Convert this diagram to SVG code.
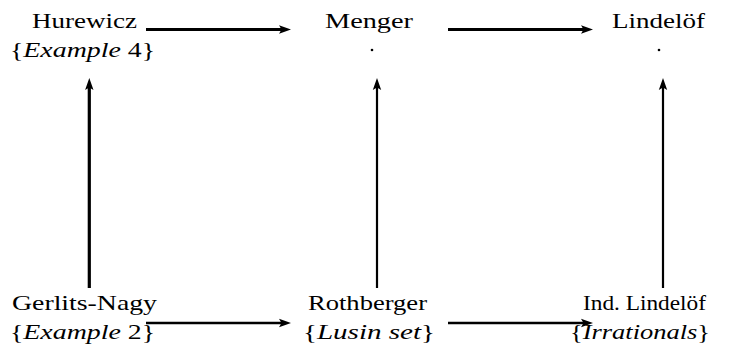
<svg xmlns="http://www.w3.org/2000/svg" width="741" height="352" viewBox="0 0 741 352">
<defs>
<marker id="ah" markerUnits="userSpaceOnUse" markerWidth="14" markerHeight="12" viewBox="0 -6 14 12" refX="4" refY="0" orient="auto" overflow="visible">
<path d="M0,-4.2 L12,0 L0,4.2 L2.5,0 z" fill="#000"/>
</marker>
<style>
.t{font-family:"Liberation Serif","DejaVu Serif",serif;font-size:22px;fill:#000}
.i{font-style:italic}
.c{stroke:#000;fill:none}
</style>
</defs>
<rect width="741" height="352" fill="#fff"/>
<g id="hurewicz">
<text class="t" x="32" y="28" textLength="105" lengthAdjust="spacingAndGlyphs">Hurewicz</text>
<text class="t" x="10" y="57" textLength="145" lengthAdjust="spacingAndGlyphs">{<tspan class="i">Example</tspan> 4}</text>
</g>
<g id="menger">
<text class="t" x="325" y="28" textLength="88" lengthAdjust="spacingAndGlyphs">Menger</text>
<circle cx="372" cy="50" r="1.3" fill="#000"/>
</g>
<g id="lindelof">
<text class="t" x="612" y="28" textLength="93" lengthAdjust="spacingAndGlyphs">Lindelöf</text>
<circle cx="659" cy="50" r="1.3" fill="#000"/>
</g>
<g id="gerlits-nagy">
<text class="t" x="12" y="310" textLength="145" lengthAdjust="spacingAndGlyphs">Gerlits-Nagy</text>
<text class="t" x="10" y="339" textLength="145" lengthAdjust="spacingAndGlyphs">{<tspan class="i">Example</tspan> 2}</text>
</g>
<g id="rothberger">
<text class="t" x="308" y="310" textLength="119" lengthAdjust="spacingAndGlyphs">Rothberger</text>
<text class="t" x="303" y="339" textLength="132" lengthAdjust="spacingAndGlyphs">{<tspan class="i">Lusin set</tspan>}</text>
</g>
<g id="ind-lindelof">
<text class="t" x="583" y="310" textLength="123" lengthAdjust="spacingAndGlyphs">Ind. Lindelöf</text>
<text class="t" x="570" y="339" textLength="140" lengthAdjust="spacingAndGlyphs">{<tspan class="i">Irrationals</tspan>}</text>
</g>
<g id="connectors">
<line class="c" x1="146" y1="29.5" x2="283" y2="29.5" stroke-width="2.8" marker-end="url(#ah)"/>
<line class="c" x1="448" y1="29.5" x2="585" y2="29.5" stroke-width="2.8" marker-end="url(#ah)"/>
<line class="c" x1="146" y1="323" x2="283" y2="323" stroke-width="2.6" marker-end="url(#ah)"/>
<line class="c" x1="448" y1="323" x2="585" y2="323" stroke-width="2.6" marker-end="url(#ah)"/>
<line class="c" x1="89.3" y1="288" x2="89.3" y2="86" stroke-width="3.2" marker-end="url(#ah)"/>
<line class="c" x1="377" y1="288" x2="377" y2="86" stroke-width="2.2" marker-end="url(#ah)"/>
<line class="c" x1="663" y1="288" x2="663" y2="86" stroke-width="2.2" marker-end="url(#ah)"/>
</g>
</svg>
